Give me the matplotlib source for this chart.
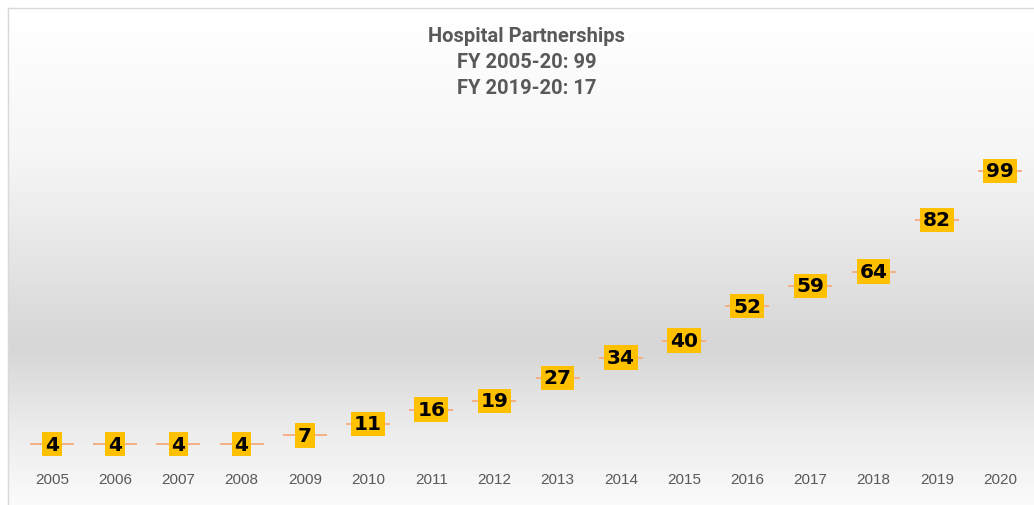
import numpy as np
import matplotlib
matplotlib.use("Agg")
import matplotlib.pyplot as plt
from matplotlib.lines import Line2D

years = ["2005", "2006", "2007", "2008", "2009", "2010", "2011", "2012",
         "2013", "2014", "2015", "2016", "2017", "2018", "2019", "2020"]
values = [4, 4, 4, 4, 7, 11, 16, 19, 27, 34, 40, 52, 59, 64, 82, 99]
title_lines = ["Hospital Partnerships", "FY 2005-20: 99", "FY 2019-20: 17"]

W, H = 1034, 506
fig = plt.figure(figsize=(W / 100, H / 100), dpi=100)
fig.patch.set_facecolor("white")

# background gradient in chart area
bg = fig.add_axes([0, 0, 1, 1], zorder=0)
bg.set_xlim(0, W)
bg.set_ylim(H, 0)
bg.axis("off")
ys = np.arange(H)
stops_y = [9, 150, 345, 420, 506]
stops_v = [255, 246, 214, 234, 251]
vals = np.interp(ys, stops_y, stops_v) / 255.0
img = np.repeat(vals[:, None], 2, axis=1)
bg.imshow(np.dstack([img, img, img]), extent=[8, W, H, 9], aspect="auto",
          interpolation="bilinear")
bg.add_line(Line2D([8, 8], [9, H], color="#d9d9d9", lw=1))
bg.add_line(Line2D([8, W], [9, 9], color="#d9d9d9", lw=1))

# plot axes
x0_px, x1_px = 20.4, 1031.6
y0_px = 456.5
ppu = 2.874
ymax = 120
ytop_px = y0_px - ymax * ppu
ax = fig.add_axes([x0_px / W, (H - y0_px) / H, (x1_px - x0_px) / W,
                   (y0_px - ytop_px) / H], zorder=1)
ax.patch.set_alpha(0)
x = np.arange(len(years))
ax.plot(x, values, linestyle="none", marker="_", markersize=32,
        markeredgewidth=1.4, color="#f4b183", zorder=2)
for xi, v in zip(x, values):
    ax.text(xi, v, str(v), ha="center", va="center", fontsize=14.5,
            fontweight="heavy", color="black", family="DejaVu Sans",
            bbox=dict(boxstyle="square,pad=0.14", fc="#ffc000", ec="none"),
            zorder=3)
ax.set_xlim(-0.5, len(years) - 0.5)
ax.set_ylim(0, ymax)
ax.set_xticks(x)
ax.set_xticklabels(years, fontsize=11, color="#595959", family="Liberation Sans")
ax.tick_params(axis="x", length=0, pad=12)
ax.set_yticks([])
for s in ax.spines.values():
    s.set_visible(False)

for i, line in enumerate(title_lines):
    fig.text(527 / W, 1 - (37 + 26 * i) / H, line, ha="center", va="center",
             fontsize=14.5, fontweight="bold", color="#595959",
             family=["Roboto", "DejaVu Sans"])

fig.savefig("out.png", dpi=100)
